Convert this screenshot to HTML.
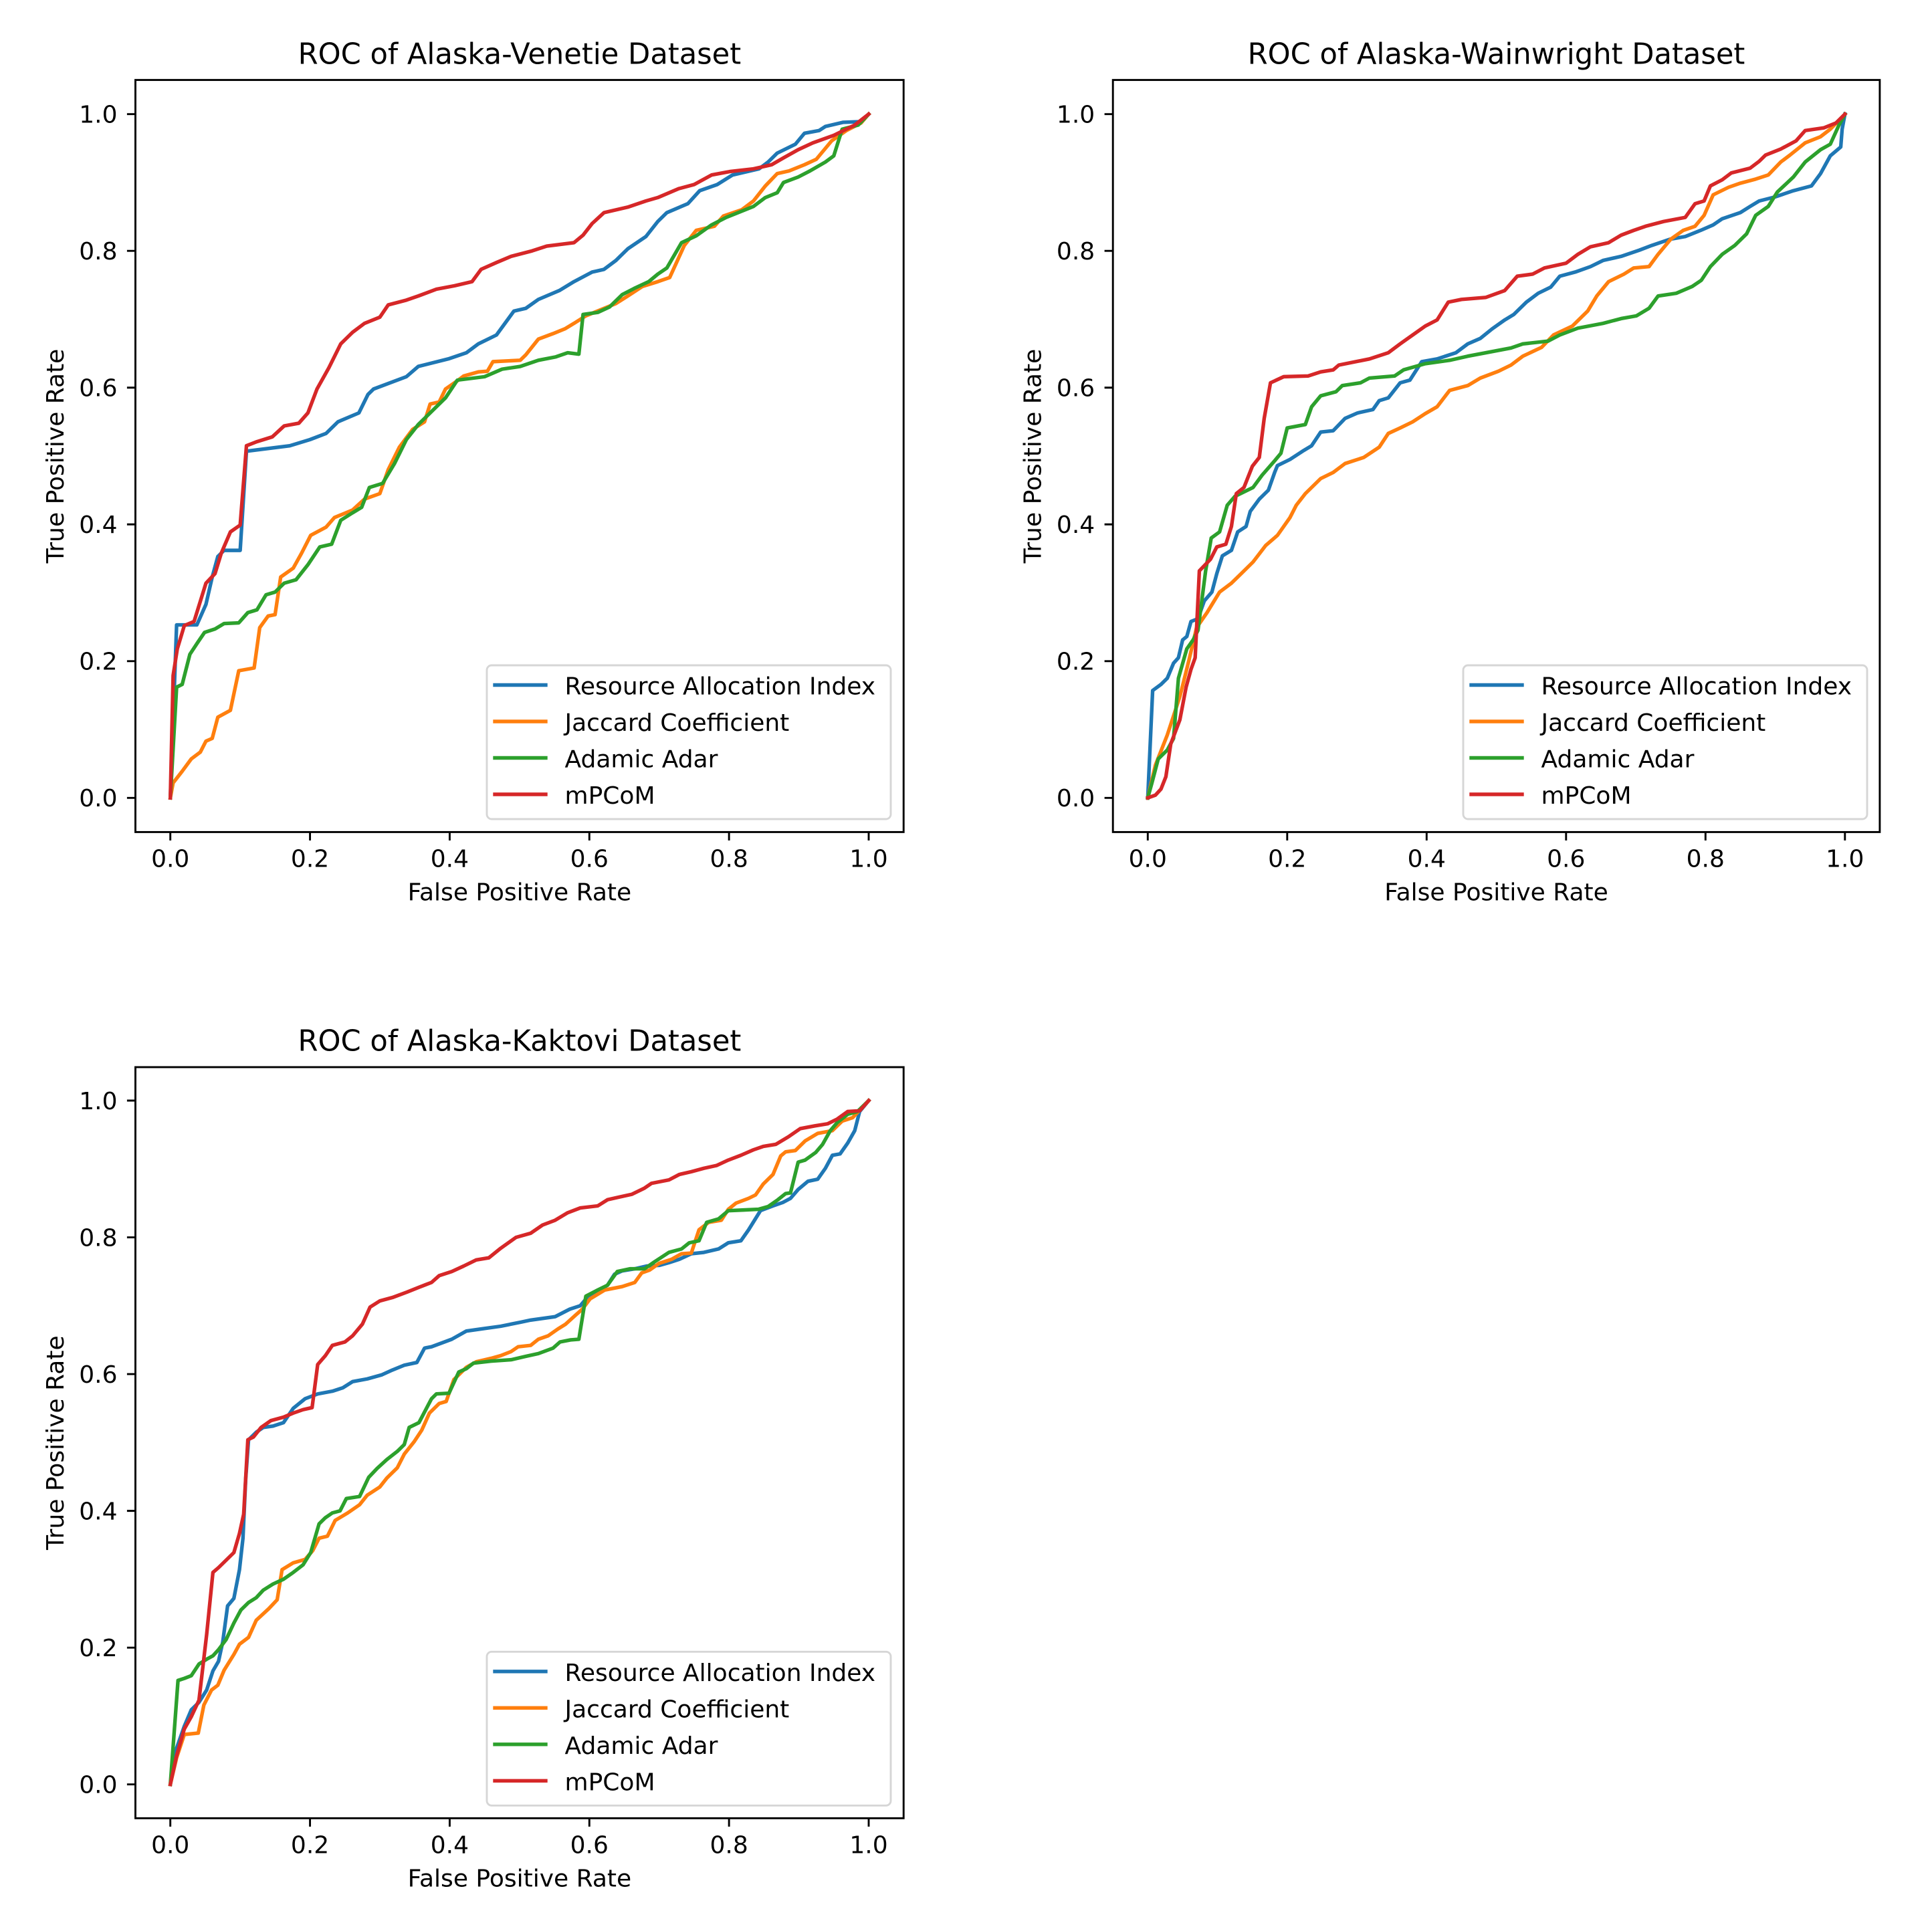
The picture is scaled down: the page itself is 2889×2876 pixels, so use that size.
<!DOCTYPE html>
<html><head><meta charset="utf-8"><style>
html,body{margin:0;padding:0;background:#fff}
svg{display:block}
text{font-family:"DejaVu Sans","Liberation Sans",sans-serif;fill:#000}
.t{font-size:36px}
.ti{font-size:43.2px}
.c{vector-effect:non-scaling-stroke;fill:none;stroke-width:5.4;stroke-linejoin:round;stroke-linecap:square}
.b{stroke:#1f77b4}.o{stroke:#ff7f0e}.g{stroke:#2ca02c}.r{stroke:#d62728}
.tk{stroke:#000;stroke-width:2.9}
.lg{stroke-width:5.4;stroke-linecap:square}
</style></head><body>
<svg width="2889" height="2876" viewBox="0 0 2889 2876" xmlns="http://www.w3.org/2000/svg">
<rect width="2889" height="2876" fill="#fff"/>

<!-- ============ AXES 1 ============ -->
<g transform="translate(254.7,1193.3) scale(1044.3,-1022.6)">
<polyline class="c b" points="0,0 0.009,0.253 0.038,0.253 0.051,0.283 0.06,0.323 0.068,0.353 0.077,0.362 0.1,0.362 0.109,0.507 0.171,0.515 0.2,0.524 0.223,0.533 0.24,0.55 0.27,0.563 0.283,0.59 0.291,0.598 0.338,0.616 0.355,0.631 0.398,0.642 0.424,0.651 0.441,0.664 0.467,0.677 0.492,0.712 0.509,0.716 0.527,0.729 0.557,0.742 0.578,0.755 0.604,0.769 0.621,0.773 0.638,0.786 0.655,0.803 0.681,0.821 0.698,0.843 0.711,0.856 0.741,0.869 0.758,0.888 0.783,0.897 0.805,0.911 0.843,0.92 0.856,0.93 0.869,0.943 0.895,0.956 0.908,0.972 0.929,0.976 0.938,0.982 0.963,0.988 0.989,0.989 1,1"/>
<polyline class="c o" points="0,0 0.004,0.022 0.017,0.039 0.03,0.057 0.043,0.067 0.051,0.083 0.06,0.087 0.068,0.118 0.086,0.128 0.098,0.186 0.12,0.19 0.128,0.249 0.14,0.266 0.15,0.268 0.158,0.323 0.176,0.336 0.188,0.358 0.201,0.384 0.223,0.396 0.235,0.41 0.261,0.421 0.278,0.437 0.3,0.445 0.312,0.48 0.328,0.513 0.347,0.539 0.364,0.55 0.372,0.576 0.385,0.579 0.394,0.598 0.411,0.61 0.42,0.617 0.441,0.623 0.454,0.624 0.462,0.638 0.501,0.64 0.509,0.648 0.527,0.671 0.548,0.679 0.565,0.686 0.578,0.694 0.595,0.705 0.638,0.723 0.655,0.734 0.676,0.748 0.698,0.755 0.715,0.761 0.736,0.808 0.753,0.83 0.779,0.836 0.792,0.851 0.818,0.86 0.835,0.873 0.852,0.895 0.869,0.913 0.886,0.917 0.908,0.926 0.925,0.934 0.947,0.961 0.968,0.976 0.989,0.987 1,1"/>
<polyline class="c g" points="0,0 0.009,0.162 0.017,0.166 0.028,0.21 0.039,0.227 0.049,0.242 0.064,0.247 0.077,0.255 0.098,0.256 0.111,0.271 0.124,0.275 0.137,0.297 0.15,0.301 0.163,0.314 0.18,0.319 0.197,0.341 0.214,0.367 0.231,0.371 0.244,0.406 0.261,0.417 0.274,0.425 0.285,0.454 0.304,0.46 0.321,0.489 0.338,0.524 0.355,0.546 0.377,0.568 0.394,0.585 0.411,0.611 0.45,0.616 0.475,0.627 0.501,0.631 0.527,0.64 0.552,0.645 0.569,0.651 0.585,0.649 0.591,0.707 0.612,0.71 0.629,0.718 0.647,0.736 0.664,0.745 0.685,0.755 0.698,0.766 0.711,0.775 0.732,0.812 0.753,0.822 0.775,0.838 0.796,0.849 0.813,0.856 0.835,0.865 0.852,0.878 0.869,0.885 0.878,0.9 0.899,0.908 0.916,0.917 0.938,0.93 0.95,0.939 0.962,0.978 0.985,0.984 1,1"/>
<polyline class="c r" points="0,0 0.004,0.179 0.01,0.218 0.02,0.252 0.034,0.258 0.051,0.314 0.064,0.328 0.073,0.358 0.086,0.389 0.1,0.399 0.109,0.515 0.124,0.521 0.146,0.528 0.163,0.544 0.184,0.548 0.197,0.563 0.21,0.598 0.227,0.629 0.244,0.664 0.261,0.681 0.278,0.694 0.3,0.703 0.312,0.721 0.338,0.728 0.355,0.734 0.381,0.744 0.407,0.749 0.432,0.755 0.445,0.773 0.467,0.783 0.488,0.792 0.518,0.8 0.539,0.807 0.578,0.812 0.591,0.823 0.604,0.84 0.621,0.856 0.655,0.864 0.681,0.873 0.698,0.878 0.728,0.891 0.75,0.897 0.775,0.911 0.801,0.916 0.835,0.92 0.861,0.926 0.878,0.936 0.899,0.948 0.92,0.958 0.95,0.969 0.98,0.984 1,1"/>
</g>
<rect x="202.5" y="119.6" width="1148.7" height="1124.8" fill="none" stroke="#000" stroke-width="2.9"/>
<!-- ticks A1 -->
<path class="tk" d="M254.7,1244.4v12.6M463.56,1244.4v12.6M672.42,1244.4v12.6M881.28,1244.4v12.6M1090.14,1244.4v12.6M1299,1244.4v12.6M202.5,1193.3h-12.6M202.5,988.78h-12.6M202.5,784.26h-12.6M202.5,579.74h-12.6M202.5,375.22h-12.6M202.5,170.7h-12.6"/>
<g class="t" text-anchor="middle">
<text x="254.7" y="1296.5">0.0</text><text x="463.56" y="1296.5">0.2</text><text x="672.42" y="1296.5">0.4</text><text x="881.28" y="1296.5">0.6</text><text x="1090.14" y="1296.5">0.8</text><text x="1299" y="1296.5">1.0</text>
</g>
<g class="t" text-anchor="end">
<text x="175.5" y="1206.1">0.0</text><text x="175.5" y="1001.6">0.2</text><text x="175.5" y="797.1">0.4</text><text x="175.5" y="592.5">0.6</text><text x="175.5" y="388">0.8</text><text x="175.5" y="183.5">1.0</text>
</g>
<text class="t" x="776.9" y="1346.5" text-anchor="middle">False Positive Rate</text>
<text class="t" transform="translate(95,682) rotate(-90)" text-anchor="middle">True Positive Rate</text>
<text class="ti" x="776.9" y="95.5" text-anchor="middle">ROC of Alaska-Venetie Dataset</text>
<!-- legend A1 -->
<rect x="728" y="995" width="604" height="230" rx="7.2" fill="#fff" fill-opacity="0.8" stroke="#cccccc" stroke-opacity="0.8" stroke-width="2.9"/>
<line class="lg b" x1="740" y1="1024.5" x2="816" y2="1024.5"/>
<line class="lg o" x1="740" y1="1079" x2="816" y2="1079"/>
<line class="lg g" x1="740" y1="1133.5" x2="816" y2="1133.5"/>
<line class="lg r" x1="740" y1="1188" x2="816" y2="1188"/>
<g class="t"><text x="844.5" y="1038.5">Resource Allocation Index</text><text x="844.5" y="1093">Jaccard Coefficient</text><text x="844.5" y="1147.5">Adamic Adar</text><text x="844.5" y="1202">mPCoM</text></g>

<!-- ============ AXES 2 ============ -->
<g transform="translate(1716.3,1193.3) scale(1042.5,-1022.6)">
<polyline class="c b" points="0,0 0.007,0.157 0.019,0.166 0.028,0.175 0.037,0.197 0.044,0.205 0.05,0.231 0.056,0.236 0.062,0.258 0.072,0.262 0.081,0.288 0.092,0.301 0.099,0.328 0.107,0.354 0.12,0.362 0.129,0.389 0.141,0.397 0.147,0.419 0.16,0.437 0.173,0.45 0.182,0.476 0.186,0.486 0.204,0.495 0.222,0.507 0.235,0.515 0.248,0.535 0.266,0.537 0.283,0.555 0.301,0.563 0.323,0.568 0.332,0.581 0.345,0.585 0.362,0.607 0.376,0.611 0.393,0.638 0.415,0.642 0.442,0.651 0.459,0.664 0.477,0.672 0.494,0.686 0.512,0.699 0.525,0.707 0.543,0.725 0.56,0.738 0.578,0.747 0.591,0.763 0.613,0.769 0.635,0.777 0.653,0.786 0.679,0.792 0.705,0.801 0.723,0.808 0.749,0.817 0.771,0.821 0.793,0.83 0.811,0.838 0.824,0.847 0.85,0.856 0.864,0.865 0.877,0.873 0.9,0.879 0.926,0.888 0.952,0.895 0.965,0.913 0.979,0.939 0.994,0.952 0.996,0.978 1,1"/>
<polyline class="c o" points="0,0 0.011,0.048 0.028,0.092 0.046,0.148 0.059,0.201 0.07,0.249 0.085,0.271 0.103,0.301 0.12,0.314 0.134,0.328 0.151,0.345 0.169,0.369 0.186,0.384 0.204,0.41 0.213,0.428 0.226,0.445 0.248,0.467 0.266,0.476 0.283,0.489 0.31,0.498 0.332,0.513 0.345,0.533 0.362,0.541 0.38,0.55 0.398,0.562 0.415,0.572 0.433,0.596 0.459,0.603 0.477,0.614 0.503,0.624 0.521,0.633 0.538,0.646 0.565,0.659 0.582,0.677 0.609,0.69 0.631,0.712 0.644,0.734 0.661,0.755 0.683,0.766 0.697,0.775 0.719,0.777 0.732,0.795 0.75,0.817 0.768,0.83 0.785,0.836 0.798,0.852 0.811,0.882 0.833,0.893 0.85,0.899 0.872,0.905 0.89,0.911 0.908,0.93 0.921,0.94 0.943,0.958 0.965,0.967 0.979,0.978 1,1"/>
<polyline class="c g" points="0,0 0.006,0.022 0.015,0.057 0.028,0.07 0.037,0.087 0.044,0.175 0.056,0.218 0.065,0.231 0.072,0.245 0.083,0.332 0.091,0.38 0.103,0.389 0.114,0.428 0.125,0.441 0.151,0.454 0.164,0.472 0.182,0.493 0.191,0.504 0.2,0.541 0.226,0.546 0.235,0.572 0.248,0.588 0.27,0.594 0.279,0.603 0.305,0.607 0.318,0.614 0.354,0.617 0.367,0.626 0.398,0.635 0.433,0.64 0.459,0.646 0.485,0.651 0.521,0.658 0.538,0.664 0.574,0.668 0.591,0.677 0.617,0.687 0.653,0.694 0.679,0.701 0.701,0.705 0.719,0.716 0.732,0.734 0.758,0.738 0.781,0.748 0.794,0.757 0.807,0.777 0.824,0.795 0.842,0.808 0.859,0.825 0.872,0.852 0.89,0.865 0.903,0.886 0.926,0.908 0.943,0.93 0.965,0.948 0.979,0.956 0.991,0.983 1,1"/>
<polyline class="c r" points="0,0 0.011,0.004 0.019,0.013 0.026,0.031 0.033,0.079 0.046,0.114 0.055,0.162 0.062,0.188 0.068,0.205 0.074,0.332 0.09,0.349 0.099,0.367 0.112,0.371 0.12,0.397 0.127,0.445 0.138,0.454 0.15,0.485 0.16,0.498 0.167,0.555 0.176,0.607 0.195,0.616 0.23,0.617 0.248,0.623 0.266,0.626 0.274,0.633 0.318,0.642 0.345,0.651 0.362,0.664 0.38,0.677 0.398,0.69 0.415,0.699 0.431,0.725 0.45,0.729 0.485,0.732 0.512,0.742 0.53,0.763 0.552,0.766 0.569,0.775 0.6,0.782 0.617,0.795 0.635,0.806 0.661,0.812 0.679,0.823 0.697,0.83 0.714,0.836 0.74,0.843 0.771,0.849 0.785,0.869 0.798,0.873 0.807,0.895 0.824,0.904 0.837,0.914 0.864,0.921 0.877,0.931 0.886,0.94 0.908,0.949 0.93,0.961 0.943,0.976 0.97,0.98 0.987,0.987 1,1"/>
</g>
<rect x="1664.2" y="119.6" width="1146.7" height="1124.8" fill="none" stroke="#000" stroke-width="2.9"/>
<path class="tk" d="M1716.3,1244.4v12.6M1924.8,1244.4v12.6M2133.3,1244.4v12.6M2341.8,1244.4v12.6M2550.3,1244.4v12.6M2758.8,1244.4v12.6M1664.2,1193.3h-12.6M1664.2,988.78h-12.6M1664.2,784.26h-12.6M1664.2,579.74h-12.6M1664.2,375.22h-12.6M1664.2,170.7h-12.6"/>
<g class="t" text-anchor="middle">
<text x="1716.3" y="1296.5">0.0</text><text x="1924.8" y="1296.5">0.2</text><text x="2133.3" y="1296.5">0.4</text><text x="2341.8" y="1296.5">0.6</text><text x="2550.3" y="1296.5">0.8</text><text x="2758.8" y="1296.5">1.0</text>
</g>
<g class="t" text-anchor="end">
<text x="1637.2" y="1206.1">0.0</text><text x="1637.2" y="1001.6">0.2</text><text x="1637.2" y="797.1">0.4</text><text x="1637.2" y="592.5">0.6</text><text x="1637.2" y="388">0.8</text><text x="1637.2" y="183.5">1.0</text>
</g>
<text class="t" x="2237.5" y="1346.5" text-anchor="middle">False Positive Rate</text>
<text class="t" transform="translate(1556.7,682) rotate(-90)" text-anchor="middle">True Positive Rate</text>
<text class="ti" x="2237.5" y="95.5" text-anchor="middle">ROC of Alaska-Wainwright Dataset</text>
<rect x="2188" y="995" width="604" height="230" rx="7.2" fill="#fff" fill-opacity="0.8" stroke="#cccccc" stroke-opacity="0.8" stroke-width="2.9"/>
<line class="lg b" x1="2200" y1="1024.5" x2="2276" y2="1024.5"/>
<line class="lg o" x1="2200" y1="1079" x2="2276" y2="1079"/>
<line class="lg g" x1="2200" y1="1133.5" x2="2276" y2="1133.5"/>
<line class="lg r" x1="2200" y1="1188" x2="2276" y2="1188"/>
<g class="t"><text x="2304.5" y="1038.5">Resource Allocation Index</text><text x="2304.5" y="1093">Jaccard Coefficient</text><text x="2304.5" y="1147.5">Adamic Adar</text><text x="2304.5" y="1202">mPCoM</text></g>

<!-- ============ AXES 3 ============ -->
<g transform="translate(254.7,2668.7) scale(1044.3,-1022.7)">
<polyline class="c b" points="0,0 0.009,0.053 0.02,0.085 0.03,0.109 0.041,0.12 0.052,0.138 0.061,0.166 0.069,0.18 0.075,0.208 0.082,0.261 0.091,0.272 0.099,0.314 0.104,0.36 0.108,0.448 0.112,0.504 0.123,0.515 0.133,0.522 0.147,0.524 0.162,0.529 0.176,0.55 0.193,0.564 0.211,0.571 0.232,0.575 0.247,0.58 0.261,0.589 0.282,0.593 0.303,0.599 0.318,0.606 0.335,0.613 0.353,0.617 0.364,0.638 0.374,0.64 0.403,0.651 0.424,0.663 0.445,0.666 0.473,0.67 0.502,0.676 0.516,0.679 0.551,0.684 0.572,0.695 0.587,0.7 0.597,0.712 0.615,0.723 0.626,0.73 0.636,0.746 0.647,0.751 0.665,0.754 0.682,0.758 0.7,0.759 0.714,0.763 0.729,0.768 0.746,0.776 0.764,0.778 0.785,0.783 0.799,0.792 0.817,0.795 0.828,0.811 0.845,0.839 0.863,0.846 0.877,0.851 0.888,0.857 0.899,0.87 0.913,0.882 0.927,0.885 0.938,0.901 0.948,0.92 0.959,0.922 0.97,0.938 0.98,0.956 0.987,0.984 1,1"/>
<polyline class="c o" points="0,0 0.009,0.039 0.02,0.073 0.04,0.075 0.048,0.116 0.059,0.138 0.068,0.145 0.077,0.167 0.091,0.19 0.099,0.205 0.112,0.215 0.123,0.24 0.141,0.257 0.153,0.27 0.16,0.314 0.176,0.324 0.193,0.329 0.204,0.342 0.213,0.36 0.225,0.363 0.236,0.386 0.254,0.397 0.271,0.409 0.282,0.423 0.3,0.435 0.31,0.448 0.325,0.463 0.335,0.483 0.349,0.501 0.36,0.518 0.371,0.543 0.385,0.557 0.395,0.56 0.406,0.592 0.424,0.61 0.438,0.618 0.459,0.623 0.473,0.627 0.488,0.633 0.498,0.64 0.516,0.642 0.527,0.651 0.541,0.656 0.555,0.666 0.566,0.673 0.58,0.686 0.59,0.695 0.601,0.71 0.622,0.723 0.647,0.728 0.665,0.734 0.675,0.748 0.686,0.752 0.7,0.762 0.718,0.768 0.732,0.776 0.746,0.777 0.757,0.811 0.771,0.822 0.789,0.825 0.799,0.841 0.81,0.85 0.828,0.857 0.838,0.862 0.849,0.878 0.863,0.892 0.874,0.919 0.881,0.925 0.895,0.927 0.909,0.941 0.927,0.952 0.948,0.956 0.962,0.97 0.977,0.975 1,1"/>
<polyline class="c g" points="0,0 0.011,0.152 0.02,0.155 0.03,0.159 0.041,0.176 0.052,0.183 0.061,0.188 0.069,0.197 0.08,0.212 0.091,0.236 0.101,0.255 0.112,0.266 0.123,0.273 0.133,0.284 0.147,0.293 0.162,0.3 0.176,0.31 0.19,0.321 0.201,0.339 0.213,0.381 0.222,0.39 0.232,0.397 0.243,0.4 0.252,0.418 0.271,0.421 0.284,0.449 0.296,0.462 0.31,0.475 0.325,0.487 0.335,0.497 0.342,0.522 0.356,0.529 0.374,0.564 0.381,0.571 0.399,0.572 0.413,0.603 0.424,0.608 0.434,0.616 0.459,0.619 0.488,0.621 0.509,0.626 0.527,0.63 0.548,0.638 0.558,0.647 0.573,0.65 0.585,0.651 0.595,0.714 0.612,0.723 0.626,0.73 0.64,0.75 0.658,0.754 0.679,0.754 0.693,0.764 0.714,0.778 0.732,0.783 0.743,0.792 0.757,0.795 0.768,0.822 0.785,0.827 0.799,0.839 0.821,0.84 0.842,0.841 0.856,0.845 0.87,0.855 0.881,0.864 0.888,0.865 0.899,0.91 0.909,0.913 0.924,0.924 0.934,0.936 0.945,0.956 0.955,0.968 0.97,0.98 0.984,0.984 1,1"/>
<polyline class="c r" points="0,0 0.009,0.042 0.02,0.081 0.03,0.099 0.041,0.123 0.052,0.219 0.061,0.31 0.069,0.317 0.08,0.328 0.091,0.339 0.099,0.367 0.105,0.395 0.111,0.504 0.119,0.508 0.13,0.522 0.144,0.532 0.162,0.537 0.176,0.543 0.19,0.548 0.203,0.551 0.211,0.614 0.222,0.627 0.232,0.642 0.25,0.647 0.261,0.656 0.275,0.673 0.286,0.698 0.3,0.707 0.318,0.712 0.339,0.72 0.356,0.727 0.374,0.734 0.385,0.744 0.403,0.75 0.42,0.758 0.438,0.767 0.456,0.77 0.473,0.784 0.495,0.8 0.516,0.806 0.533,0.818 0.551,0.825 0.569,0.836 0.587,0.843 0.612,0.846 0.626,0.855 0.643,0.859 0.661,0.863 0.679,0.872 0.689,0.879 0.714,0.884 0.729,0.892 0.746,0.896 0.764,0.901 0.782,0.905 0.799,0.913 0.817,0.92 0.835,0.928 0.849,0.933 0.867,0.936 0.885,0.947 0.902,0.959 0.923,0.963 0.941,0.966 0.955,0.973 0.97,0.984 0.987,0.985 1,1"/>
</g>
<rect x="202.5" y="1596" width="1148.7" height="1123.3" fill="none" stroke="#000" stroke-width="2.9"/>
<path class="tk" d="M254.7,2719.3v12.6M463.56,2719.3v12.6M672.42,2719.3v12.6M881.28,2719.3v12.6M1090.14,2719.3v12.6M1299,2719.3v12.6M202.5,2668.7h-12.6M202.5,2464.16h-12.6M202.5,2259.62h-12.6M202.5,2055.08h-12.6M202.5,1850.54h-12.6M202.5,1646h-12.6"/>
<g class="t" text-anchor="middle">
<text x="254.7" y="2771.5">0.0</text><text x="463.56" y="2771.5">0.2</text><text x="672.42" y="2771.5">0.4</text><text x="881.28" y="2771.5">0.6</text><text x="1090.14" y="2771.5">0.8</text><text x="1299" y="2771.5">1.0</text>
</g>
<g class="t" text-anchor="end">
<text x="175.5" y="2681.5">0.0</text><text x="175.5" y="2477">0.2</text><text x="175.5" y="2272.4">0.4</text><text x="175.5" y="2067.9">0.6</text><text x="175.5" y="1863.3">0.8</text><text x="175.5" y="1658.8">1.0</text>
</g>
<text class="t" x="776.9" y="2821.7" text-anchor="middle">False Positive Rate</text>
<text class="t" transform="translate(95,2157.7) rotate(-90)" text-anchor="middle">True Positive Rate</text>
<text class="ti" x="776.9" y="1571.7" text-anchor="middle">ROC of Alaska-Kaktovi Dataset</text>
<rect x="728" y="2470.3" width="604" height="230" rx="7.2" fill="#fff" fill-opacity="0.8" stroke="#cccccc" stroke-opacity="0.8" stroke-width="2.9"/>
<line class="lg b" x1="740" y1="2499.8" x2="816" y2="2499.8"/>
<line class="lg o" x1="740" y1="2554.3" x2="816" y2="2554.3"/>
<line class="lg g" x1="740" y1="2608.8" x2="816" y2="2608.8"/>
<line class="lg r" x1="740" y1="2663.3" x2="816" y2="2663.3"/>
<g class="t"><text x="844.5" y="2513.8">Resource Allocation Index</text><text x="844.5" y="2568.3">Jaccard Coefficient</text><text x="844.5" y="2622.8">Adamic Adar</text><text x="844.5" y="2677.3">mPCoM</text></g>
</svg>
</body></html>
